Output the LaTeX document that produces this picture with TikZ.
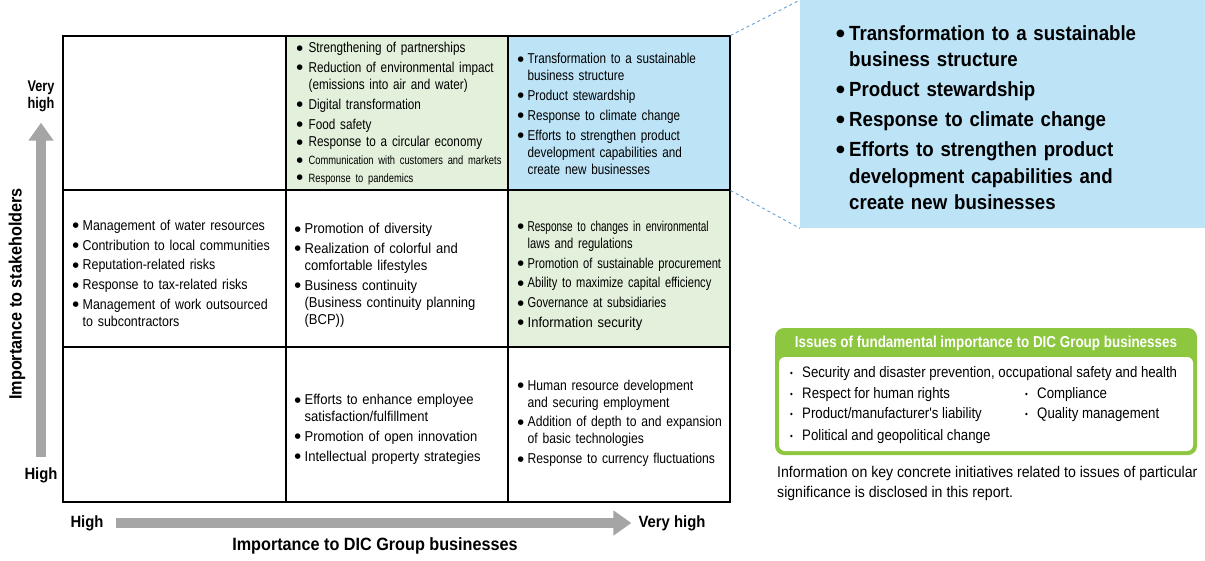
\documentclass[tikz,border=0pt]{standalone}
\usepackage{fontspec}
\setmainfont[FakeStretch=0.82]{Liberation Sans}
\newfontfamily\fA[FakeStretch=0.70]{Liberation Sans}
\newfontfamily\fB[FakeStretch=0.78]{Liberation Sans}
\newfontfamily\fC[FakeStretch=0.82]{Liberation Sans}
\newfontfamily\fD[FakeStretch=0.85]{Liberation Sans}
\newfontfamily\fE[FakeStretch=0.87]{Liberation Sans}
\newfontfamily\fF[FakeStretch=0.91]{Liberation Sans}
\newfontfamily\symfont{DejaVu Sans}
\usetikzlibrary{arrows.meta}
\definecolor{lgreen}{HTML}{E3F0DB}
\definecolor{lblue}{HTML}{BDE3F7}
\definecolor{dgreen}{HTML}{8DC63F}
\definecolor{axgray}{HTML}{A5A5A5}
\definecolor{dashblue}{HTML}{6FA8DC}
\newlength\bulind
\setlength\bulind{10pt}
\newcommand\bulsym{\raisebox{2.6pt}{\symfont\fontsize{7.2}{7.2}\selectfont ●}}
\newcommand\bitem{\par\noindent\hangindent=\bulind\hangafter=1\makebox[\bulind][l]{\bulsym}}
\newcommand\smallcell{\fB\fontsize{12}{15}\selectfont}
\tikzset{
  cell/.style={draw=black, line width=1.1pt, inner sep=0pt, minimum width=222pt},
  txt/.style={anchor=west, inner sep=0pt, text width=240pt, align=left,
    font=\fontsize{14.3}{17}\selectfont,
    execute at begin node={\setlength\parskip{2.8pt}}},
  axlab/.style={font=\fF\bfseries\fontsize{16.3}{17}\selectfont, inner sep=2pt},
  axtitle/.style={font=\fF\bfseries\fontsize{17.8}{19}\selectfont, inner sep=2pt},
  axarrow/.style={line width=10pt, axgray, -{Triangle[width=24pt,length=18pt]}},
  gitem/.style={anchor=base west, inner sep=0pt, font=\fE\fontsize{15.2}{16}\selectfont},
}
\newcommand\gb{\makebox[12pt][l]{\fontsize{9}{9}\selectfont\raisebox{1pt}{\textbullet}}}
\begin{document}
\begin{tikzpicture}[x=1pt,y=-1pt]
\useasboundingbox (0,0) rectangle (1205,560);
% grid cells
\node[cell, minimum width=223pt, minimum height=154pt] (c11) at (174.5,113) {};
\node[cell, fill=lgreen, minimum height=154pt] (c12) at (397,113) {};
\node[cell, fill=lblue, minimum height=154pt] (c13) at (619,113) {};
\node[cell, minimum width=223pt, minimum height=157pt] (c21) at (174.5,268.5) {};
\node[cell, minimum height=157pt] (c22) at (397,268.5) {};
\node[cell, fill=lgreen, minimum height=157pt] (c23) at (619,268.5) {};
\node[cell, minimum width=223pt, minimum height=155pt] (c31) at (174.5,424.5) {};
\node[cell, minimum height=155pt] (c32) at (397,424.5) {};
\node[cell, minimum height=155pt] (c33) at (619,424.5) {};
% cell texts
\node[txt, execute at begin node={\setlength\bulind{12pt}\fC}] (t12) at ([shift={(11,-4)}]c12.west) {%
\bitem Strengthening of partnerships
\bitem Reduction of environmental impact\newline (emissions into air and water)
\bitem Digital transformation
\bitem Food safety
\bitem Response to a circular economy
\smallcell
\bitem Communication with customers and markets
\bitem Response to pandemics\par};
\node[txt, execute at begin node={\fC}] (t13) at ([shift={(10,-4)}]c13.west) {%
\bitem Transformation to a sustainable\newline business structure
\bitem Product stewardship
\bitem Response to climate change
\bitem Efforts to strengthen product\newline development capabilities and\newline create new businesses\par};
\node[txt, execute at begin node={\fE}] (t21) at ([shift={(10,0)}]c21.west) {%
\bitem Management of water resources
\bitem Contribution to local communities
\bitem Reputation-related risks
\bitem Response to tax-related risks
\bitem Management of work outsourced\newline to subcontractors\par};
\node[txt, execute at begin node={\fF}] (t22) at ([shift={(9,2)}]c22.west) {%
\bitem Promotion of diversity
\bitem Realization of colorful and\newline comfortable lifestyles
\bitem Business continuity\newline (Business continuity planning\newline (BCP))\par};
\node[txt, execute at begin node={\fB}] (t23) at ([shift={(10,2.5)}]c23.west) {%
\bitem {\fA Response to changes in environmental}\newline laws and regulations
\bitem {\fB Promotion of sustainable procurement}
\bitem {\fB Ability to maximize capital efficiency}
\bitem Governance at subsidiaries
\bitem {\fF Information security}\par};
\node[txt, execute at begin node={\fF}] (t32) at ([shift={(9,0)}]c32.west) {%
\bitem Efforts to enhance employee\newline satisfaction/fulfillment
\bitem Promotion of open innovation
\bitem Intellectual property strategies\par};
\node[txt, execute at begin node={\fD}] (t33) at ([shift={(10,-6)}]c33.west) {%
\bitem Human resource development\newline and securing employment
\bitem Addition of depth to and expansion\newline of basic technologies
\bitem Response to currency fluctuations\par};
% callout
\node[fill=lblue, inner sep=0pt, minimum width=405pt, minimum height=228pt, anchor=north west] (callout) at (800,0) {};
\node[txt, text width=360pt, font=\fF\bfseries\fontsize{20.5}{26.5}\selectfont,
  execute at begin node={\setlength\bulind{13pt}\setlength\parskip{3.5pt}\renewcommand\bulsym{\raisebox{4pt}{\symfont\fontsize{10}{10}\selectfont ●}}}] (ct) at ([shift={(36,-4)}]callout.west) {%
\bitem Transformation to a sustainable\newline business structure
\bitem Product stewardship
\bitem Response to climate change
\bitem Efforts to strengthen product\newline development capabilities and\newline create new businesses\par};
\draw[dashblue, dashed, line width=1pt] (c13.north east) -- (callout.north west);
\draw[dashblue, dashed, line width=1pt] (c13.south east) -- (callout.south west);
% axes
\node[axlab, align=center, font=\bfseries\fontsize{15.5}{17}\selectfont] (yhigh) at (41,96) {Very\\high};
\node[axlab] (ylow) at (41,475) {High};
\node[axtitle, rotate=90] (ytitle) at (17,294) {Importance to stakeholders};
\draw[axarrow, shorten <=8pt, shorten >=9pt] (ylow.north) -- (yhigh.south);
\node[axlab] (xlow) at (87,523) {High};
\node[axlab] (xhigh) at (672,523) {Very high};
\node[axtitle] (xtitle) at (375,546) {Importance to DIC Group businesses};
\draw[axarrow, shorten <=10pt, shorten >=5pt] (xlow.east) -- (xhigh.west);
% fundamental box
\fill[dgreen, rounded corners=9pt] (775,328) rectangle (1197,455);
\fill[white, rounded corners=6pt] (779,357) rectangle (1193,451);
\node[font=\fD\bfseries\fontsize{15.8}{17}\selectfont, text=white, inner sep=0pt] (fhead) at (986,343) {Issues of fundamental importance to DIC Group businesses};
\node[gitem] (g1) at (790,377) {\gb Security and disaster prevention, occupational safety and health};
\node[gitem] (g2) at (790,398) {\gb Respect for human rights};
\node[gitem] (g3) at (1025,398) {\gb Compliance};
\node[gitem] (g4) at (790,418) {\gb Product/manufacturer's liability};
\node[gitem] (g5) at (1025,418) {\gb Quality management};
\node[gitem] (g6) at (790,440) {\gb Political and geopolitical change};
\node[gitem, font=\fF\fontsize{15.5}{20}\selectfont, align=left, anchor=north west] (note) at (777,466) {Information on key concrete initiatives related to issues of particular\\significance is disclosed in this report.};
\end{tikzpicture}
\end{document}
